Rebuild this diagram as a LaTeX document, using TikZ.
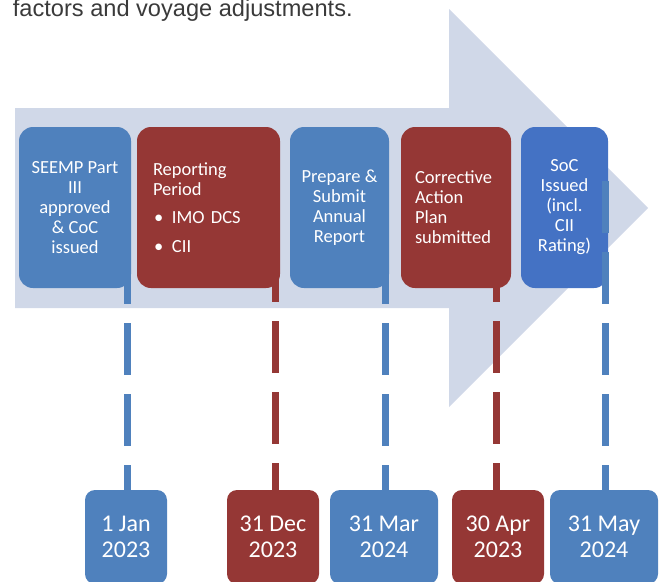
\documentclass[tikz,border=0pt]{standalone}
\usepackage{fontspec}
\setmainfont{Carlito}
\newfontfamily\topfont{Liberation Sans}
\definecolor{arrowfill}{HTML}{D0D8E8}
\definecolor{boxblue}{HTML}{4F81BD}
\definecolor{boxred}{HTML}{953735}
\definecolor{socblue}{HTML}{4472C4}
\definecolor{txtgray}{HTML}{3A3A3A}
\begin{document}
\begin{tikzpicture}[x=1pt,y=-1pt,
  topbox/.style={rounded corners=14pt, minimum height=161pt, inner sep=0pt, text=white,
    font=\fontsize{18.5}{20}\selectfont, align=center},
  botbox/.style={rounded corners=10pt, minimum height=94pt, inner sep=0pt, text=white,
    font=\fontsize{24}{26.5}\selectfont, align=center},
  dline/.style={line width=7pt, dash pattern=on 52pt off 19pt}]
\useasboundingbox (0,0) rectangle (660,581);

% big arrow
\fill[arrowfill] (15,108) -- (449,108) -- (449,9) -- (648,208) -- (449,407) -- (449,308) -- (15,308) -- cycle;

% caption fragment
\node[anchor=base west, inner sep=0pt, text=txtgray, font=\topfont\fontsize{23.6}{28}\selectfont] (cap) at (12.7,16.7) {factors and voyage adjustments.};

% top boxes
\node[topbox, fill=boxblue, minimum width=112pt] (b1) at (75,207.5) {SEEMP Part\\III\\approved\\\& CoC\\issued};
\node[topbox, fill=boxred, minimum width=143pt, text width=111pt, align=left] (b2) at (208.5,207.5)
  {Reporting\\Period\\[8pt]\makebox[19pt][l]{\hspace{1pt}\textbullet}IMO DCS\\[9pt]\makebox[19pt][l]{\hspace{1pt}\textbullet}CII};
\node[topbox, fill=boxblue, minimum width=99pt] (b3) at (339.5,207.5) {Prepare \&\\Submit\\Annual\\Report};
\node[topbox, fill=boxred, minimum width=110pt, text width=82pt, align=left] (b4) at (456,207.5) {Corrective\\Action\\Plan\\submitted};
\node[topbox, fill=socblue, minimum width=87pt] (b5) at (564.5,207.5) {SoC\\Issued\\(incl.\\CII\\Rating)};

% bottom date boxes
\node[botbox, fill=boxblue, minimum width=82pt] (d1) at (126,537) {1 Jan\\2023};
\node[botbox, fill=boxred, minimum width=92pt] (d2) at (273,537) {31 Dec\\2023};
\node[botbox, fill=boxblue, minimum width=108pt] (d3) at (384,537) {31 Mar\\2024};
\node[botbox, fill=boxred, minimum width=92pt] (d4) at (498,537) {30 Apr\\2023};
\node[botbox, fill=boxblue, minimum width=108pt] (d5) at (604,537) {31 May\\2024};

% dashed connectors
\coordinate (t1) at (127,181);
\coordinate (t2) at (275.5,179);
\coordinate (t3) at (385,181);
\coordinate (t4) at (496.5,179);
\coordinate (t5) at (605.5,181);
\draw[dline, boxblue] (t1) -- (t1 |- d1.north);
\draw[dline, boxred]  (t2) -- (t2 |- d2.north);
\draw[dline, boxblue] (t3) -- (t3 |- d3.north);
\draw[dline, boxred]  (t4) -- (t4 |- d4.north);
\draw[dline, boxblue] (t5) -- (t5 |- d5.north);
\end{tikzpicture}
\end{document}
